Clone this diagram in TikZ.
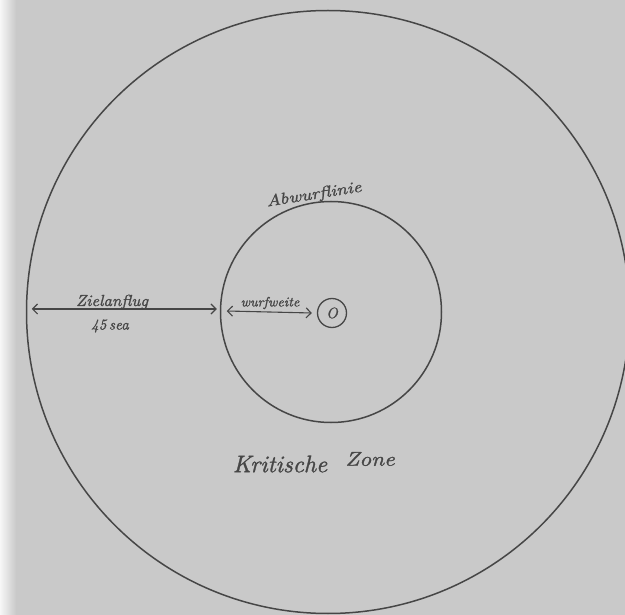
\documentclass[tikz,border=0pt]{standalone}
\usepackage{fontspec}
\usepackage{graphicx}
\usetikzlibrary{arrows.meta}
\newfontfamily\handfont{lmroman10-italic.otf}[FakeBold=1.2]
\definecolor{bgc}{RGB}{201,201,201}
\definecolor{ink}{RGB}{70,70,70}
\begin{document}
\begin{tikzpicture}[x=1pt,y=-1pt,
  ring/.style={circle,draw=ink,line width=1.5pt,inner sep=0pt},
  dimarrow/.style={draw=ink,line width=1.1pt,{Straight Barb[length=5pt,width=10pt]}-{Straight Barb[length=5pt,width=10pt]}},
  hand/.style={text=ink,inner sep=0pt,font=\handfont}]
\useasboundingbox (0,0) rectangle (625,615);
\fill[bgc] (0,0) rectangle (625,615);
\shade[left color=white!85!bgc,right color=bgc] (0,0) rectangle (16,615);
% circles
\node[ring,minimum size=603pt] (outer) at (328,312) {};
\node[ring,minimum size=221pt] (inner) at (331,312) {};
\node[ring,minimum size=29pt,line width=1.3pt,hand,font=\handfont\fontsize{15}{15}\selectfont] (obj) at (332,313) {O};
% dimension arrows
\coordinate (zl) at ([xshift=6pt,yshift=3pt]outer.west);
\coordinate (zr) at ([xshift=-3pt,yshift=3pt]inner.west);
\coordinate (wl) at ([xshift=7pt,yshift=1pt]inner.west);
\coordinate (wr) at ([xshift=-5pt]obj.west);
\draw[dimarrow] (zl) -- (zr);
\draw[dimarrow] (wl) -- (wr);
% labels
\node[hand] (ziel) at (112,302) {\scalebox{1.05}[1]{\fontsize{16}{16}\selectfont Zielanflug}};
\node[hand] (sec) at (110,326) {\fontsize{15}{15}\selectfont 45\,sea};
\node[hand] (wurf) at (270,303) {\scalebox{1.05}[1]{\fontsize{13.5}{13.5}\selectfont wurfweite}};
\node[hand,rotate=9] (abw) at (314,195) {\scalebox{1.2}[1]{\fontsize{16}{16}\selectfont Abwurflinie}};
\node[hand] (krit) at (280,464) {\fontsize{24}{24}\selectfont Kritische};
\node[hand] (zone) at (370,459) {\scalebox{1.15}[1]{\fontsize{20}{20}\selectfont Zone}};
\end{tikzpicture}
\end{document}
